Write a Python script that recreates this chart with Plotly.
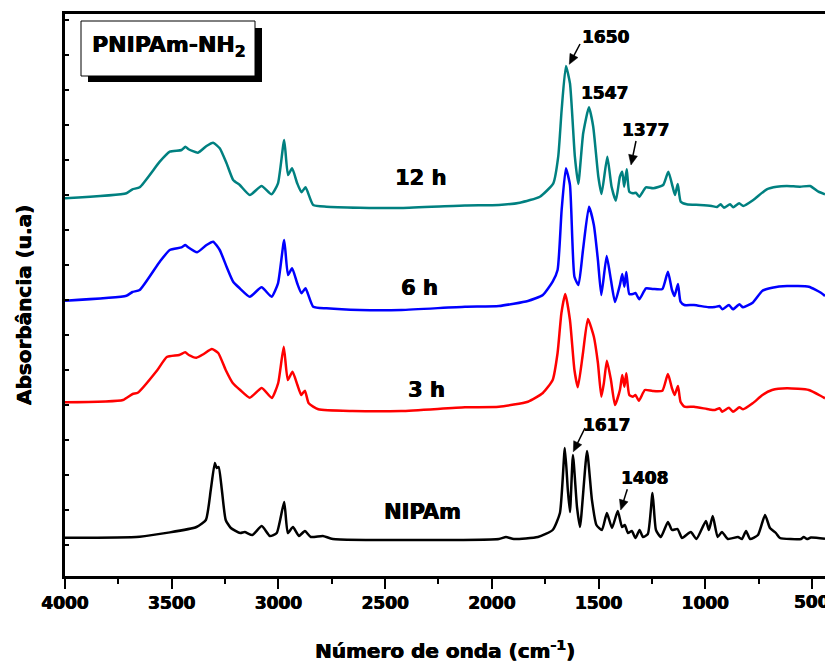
import math
import plotly.graph_objects as go

# ---------------- data ----------------
wn_nipam = [4000, 3650, 3384, 3340, 3317, 3298, 3289, 3280, 3265, 3247, 3223, 3179, 3158, 3122, 3078, 3040,
            3008, 2973, 2956, 2932, 2904, 2876, 2848, 2792, 2745, 1967, 1934, 1897, 1784, 1715, 1681, 1658,
            1644, 1634, 1620, 1601, 1587, 1554, 1531, 1510, 1484, 1461, 1437, 1410, 1390, 1377, 1362, 1344,
            1327, 1308, 1292, 1269, 1247, 1231, 1208, 1175, 1156, 1130, 1109, 1068, 1041, 997, 983, 965,
            942, 922, 894, 847, 828, 809, 790, 753, 720, 697, 669, 650, 551, 539, 523, 505, 439]
abs_nipam = [38.3, 39.3, 49, 56, 86, 113, 108, 109, 86, 56, 48, 43, 44, 41, 50, 40,
             43, 74, 43, 49, 40, 45, 39, 40, 37, 37, 39, 37, 39, 46, 63, 128,
             86, 64, 121, 69, 49, 125, 76, 51, 46, 63, 48, 65, 49, 51, 43, 45,
             38, 46, 39, 42, 83, 46, 39, 54, 46, 47, 38, 44, 37, 55, 46, 60,
             39, 44, 37, 39, 37, 45, 37, 41, 61, 48, 43, 38, 37, 39, 37, 38.5, 37.3]

wn_3h = [4000, 3728, 3683, 3659, 3567, 3523, 3465, 3437, 3420, 3384, 3350, 3312, 3282, 3247, 3214, 3179,
         3134, 3078, 3031, 3001, 2975, 2956, 2934, 2911, 2893, 2876, 2858, 2813, 2653, 2424, 2126, 1967,
         1831, 1761, 1715, 1692, 1674, 1656, 1634, 1613, 1597, 1573, 1550, 1522, 1503, 1487, 1475, 1461,
         1442, 1423, 1400, 1389, 1379, 1370, 1356, 1339, 1327, 1311, 1283, 1247, 1201, 1175, 1156, 1144,
         1128, 1116, 1098, 1053, 984, 955, 933, 920, 889, 870, 840, 823, 778, 732, 687, 617, 515, 458, 439]
abs_3h = [173.7, 176, 182, 183.3, 206, 219, 221, 223.7, 221, 218.3, 222, 227, 223, 206, 193, 186,
          178.3, 188, 178, 193, 229.3, 196, 204.3, 191, 181, 185.3, 172.7, 166.7, 165, 165, 168.7, 169.3,
          174.3, 183, 196, 223, 263, 282, 256, 206, 188.7, 223, 257, 239.3, 213, 179.3, 193, 215.3,
          196, 171, 186, 201, 189.3, 202.7, 181, 179.3, 181, 175.3, 186, 185, 185.3, 202, 187.7, 181,
          190, 174.3, 169.3, 169.3, 166.7, 166, 167.7, 164.3, 168.3, 164.3, 168.7, 166.7, 172.7, 181, 186, 187.7, 186, 180, 177.7]

wn_6h = [4000, 3712, 3684, 3650, 3556, 3509, 3454, 3436, 3423, 3381, 3337, 3306, 3275, 3243, 3212, 3181,
         3134, 3079, 3032, 3002, 2973, 2955, 2936, 2912, 2892, 2873, 2837, 2775, 2619, 2424, 2126, 1967,
         1831, 1761, 1715, 1692, 1673, 1653, 1634, 1613, 1594, 1573, 1545, 1522, 1503, 1487, 1462, 1442,
         1423, 1400, 1389, 1379, 1370, 1356, 1339, 1327, 1309, 1278, 1244, 1201, 1175, 1156, 1144, 1128,
         1116, 1098, 1053, 984, 955, 933, 920, 889, 870, 840, 823, 778, 732, 687, 617, 515, 458, 439]
abs_6h = [275.3, 280.3, 284, 286, 314.3, 326, 328.7, 331, 328.7, 323.7, 331, 334.3, 326, 309.3, 294.3, 287.7,
          279.3, 288.7, 279.3, 292.7, 336, 301, 307.7, 292.7, 282.7, 287.7, 269.3, 267.7, 266, 266, 269.3, 270,
          275, 281, 294.3, 306, 366, 407.7, 391, 299.3, 291, 326, 369.3, 351, 316, 281, 320, 296,
          274, 291, 302, 289.3, 304, 282, 282, 283, 276.7, 287.7, 287, 287, 304.3, 286, 280, 292,
          274.3, 271, 271, 268.7, 269, 270, 266.7, 271, 266.7, 271.7, 268.7, 273.3, 285.3, 288.3, 290, 289.3, 283.3, 280]

wn_12h = [4000, 3712, 3684, 3650, 3556, 3509, 3454, 3436, 3423, 3377, 3337, 3306, 3275, 3243, 3212, 3181,
          3134, 3079, 3032, 3002, 2973, 2955, 2936, 2912, 2892, 2873, 2837, 2775, 2619, 2424, 2126, 1967,
          1869, 1775, 1712, 1689, 1673, 1653, 1634, 1611, 1595, 1572, 1545, 1525, 1501, 1486, 1459, 1439,
          1419, 1400, 1389, 1380, 1368, 1356, 1337, 1325, 1309, 1278, 1244, 1197, 1173, 1153, 1142, 1129,
          1115, 1087, 1025, 970, 945, 928, 912, 884, 869, 841, 822, 775, 712, 665, 618, 556, 509, 470, 439]
abs_12h = [377.7, 382.7, 386.7, 388.7, 414.3, 424.3, 426, 429.3, 427, 423.3, 430, 433.3, 427.7, 412.7, 396, 391,
           381, 390, 381.7, 392.7, 436, 401, 407.7, 392.7, 383.7, 388.7, 371, 369.3, 368.3, 368, 370.5, 371,
           373.3, 379.3, 392.7, 419.3, 466, 510, 492.7, 419.3, 392, 442.7, 468.7, 449.3, 399.3, 382, 419.3, 389.3,
           375.3, 399.3, 404.3, 389.3, 406.7, 384.3, 382.7, 383.3, 379.3, 388.7, 387.7, 391, 404.3, 389.3, 381, 392,
           374.3, 371.7, 371, 370, 369, 371.7, 368.3, 371.7, 368.7, 372.7, 370, 376, 386.7, 389.3, 390, 389.3, 390, 384.3, 381.7]

series_names = ["NIPAm", "3 h", "6 h", "12 h"]
series_colors = ["#000000", "#FF0000", "#0000FF", "#008080"]

x_tick_vals = [4000, 3500, 3000, 2500, 2000, 1500, 1000, 500]
x_tick_text = ["4000", "3500", "3000", "2500", "2000", "1500", "1000", "500"]

# ---------------- layout helpers ----------------
W, H = 825, 665
L, R, T, B = 65, 0, 14, 89
PW, PH = W - L - R, H - T - B
FONT = "DejaVu Sans"
HEAVY = "0.5px 0px 0px black, -0.3px 0px 0px black"
X_MIN_SHOWN = 439

def pxx(x):
    return (x - L) / PW

def pxy(y):
    return (H - B - y) / PH

fig = go.Figure()
all_x = [wn_nipam, wn_3h, wn_6h, wn_12h]
all_y = [abs_nipam, abs_3h, abs_6h, abs_12h]
for name, xs, ys, col in zip(series_names, all_x, all_y, series_colors):
    fig.add_trace(go.Scatter(x=xs, y=ys, mode="lines", name=name,
                             line=dict(color=col, width=2.5, shape="spline", smoothing=0.5),
                             showlegend=False, hoverinfo="skip"))

fig.update_layout(
    width=W, height=H,
    margin=dict(l=L, r=R, t=T, b=B, pad=0),
    paper_bgcolor="white", plot_bgcolor="white",
    font=dict(family=FONT, color="black"),
)
# tick labels whose tick lies near the right edge are drawn as annotations (so they get cut by the page edge)
inner_text = [t if v > 700 else "" for v, t in zip(x_tick_vals, x_tick_text)]
fig.update_xaxes(
    range=[4000, X_MIN_SHOWN], showgrid=False, zeroline=False,
    showline=True, linecolor="black", linewidth=2.5, mirror=True,
    ticks="outside", ticklen=10, tickwidth=2, tickcolor="black",
    tickvals=x_tick_vals, ticktext=inner_text, ticklabeloverflow="allow",
    tickfont=dict(family=FONT, size=17, color="black", weight="bold", shadow=HEAVY),
    minor=dict(dtick=250, tick0=250, ticks="outside", ticklen=5, tickwidth=2, tickcolor="black"),
)
fig.update_yaxes(
    range=[0, 562], showgrid=False, zeroline=False, showticklabels=False,
    showline=True, linecolor="black", linewidth=2.5, mirror=False,
    ticks="inside", ticklen=4, tickwidth=1.5, tickcolor="black",
    tick0=31, dtick=35,
)

ann = []
for v, t in zip(x_tick_vals, x_tick_text):
    if v <= 700:
        ann.append(dict(text="<b>%s</b>" % t, x=v, y=pxy(602), xref="x", yref="paper",
                        xanchor="center", yanchor="middle", showarrow=False,
                        font=dict(family=FONT, size=17, color="black", shadow=HEAVY)))
# axis titles
ann.append(dict(text="<b>Número de onda (cm<sup>-1</sup>)</b>", xref="paper", yref="paper",
                x=pxx(445), y=pxy(650), xanchor="center", yanchor="middle", showarrow=False,
                font=dict(family=FONT, size=20, color="black", shadow=HEAVY)))
ann.append(dict(text="<b>Absorbância (u.a)</b>", xref="paper", yref="paper",
                x=pxx(24), y=pxy(305), xanchor="center", yanchor="middle", showarrow=False,
                textangle=-90, font=dict(family=FONT, size=20, color="black", shadow=HEAVY)))
# curve labels
for txt, cx, cy in [("12 h", 2333, 398), ("6 h", 2341, 288), ("3 h", 2308, 186), ("NIPAm", 2327, 64)]:
    ann.append(dict(text="<b>%s</b>" % txt, x=cx, y=cy, xref="x", yref="y", showarrow=False,
                    xanchor="center", yanchor="middle",
                    font=dict(family=FONT, size=21, color="black", shadow=HEAVY)))
# peak labels
for txt, cx, cy in [("1650", 1468, 539), ("1547", 1472, 483), ("1377", 1280, 446),
                    ("1617", 1465, 151), ("1408", 1283, 98)]:
    ann.append(dict(text="<b>%s</b>" % txt, x=cx, y=cy, xref="x", yref="y", showarrow=False,
                    xanchor="center", yanchor="middle",
                    font=dict(family=FONT, size=17, color="black", shadow=HEAVY)))
# box label
ann.append(dict(text="<b>PNIPAm-NH<sub>2</sub></b>", xref="paper", yref="paper",
                x=pxx(168), y=pxy(46), xanchor="center", yanchor="middle", showarrow=False,
                font=dict(family=FONT, size=22, color="black", shadow=HEAVY)))
fig.update_layout(annotations=ann)

shapes = [
    dict(type="rect", xref="paper", yref="paper", x0=pxx(88), x1=pxx(262), y0=pxy(82), y1=pxy(28),
         fillcolor="black", line=dict(width=0), layer="above"),
    dict(type="rect", xref="paper", yref="paper", x0=pxx(81), x1=pxx(255), y0=pxy(76), y1=pxy(21),
         fillcolor="white", line=dict(color="black", width=1), layer="above"),
]
# arrows pointing at labelled peaks: (tail_px, tail_py, tip_px, tip_py)
arrows = [(580, 44, 569.3, 64.3), (636, 141, 631, 165), (585, 428, 573.3, 451.7), (627.3, 489.3, 620.7, 510)]
HEAD_L, HEAD_W = 10, 4.5
for x0, y0, x1, y1 in arrows:
    dx, dy = x1 - x0, y1 - y0
    n = math.hypot(dx, dy)
    ux, uy = dx / n, dy / n
    bx, by = x1 - HEAD_L * ux, y1 - HEAD_L * uy
    nx, ny = -uy, ux
    shapes.append(dict(type="line", xref="paper", yref="paper",
                       x0=pxx(x0), y0=pxy(y0), x1=pxx(bx + ux), y1=pxy(by + uy),
                       line=dict(color="black", width=1.5), layer="above"))
    path = "M %f,%f L %f,%f L %f,%f Z" % (pxx(x1), pxy(y1),
                                         pxx(bx + HEAD_W * nx), pxy(by + HEAD_W * ny),
                                         pxx(bx - HEAD_W * nx), pxy(by - HEAD_W * ny))
    shapes.append(dict(type="path", xref="paper", yref="paper", path=path,
                       fillcolor="black", line=dict(color="black", width=0.5), layer="above"))
fig.update_layout(shapes=shapes)

fig.write_html("out.html")
